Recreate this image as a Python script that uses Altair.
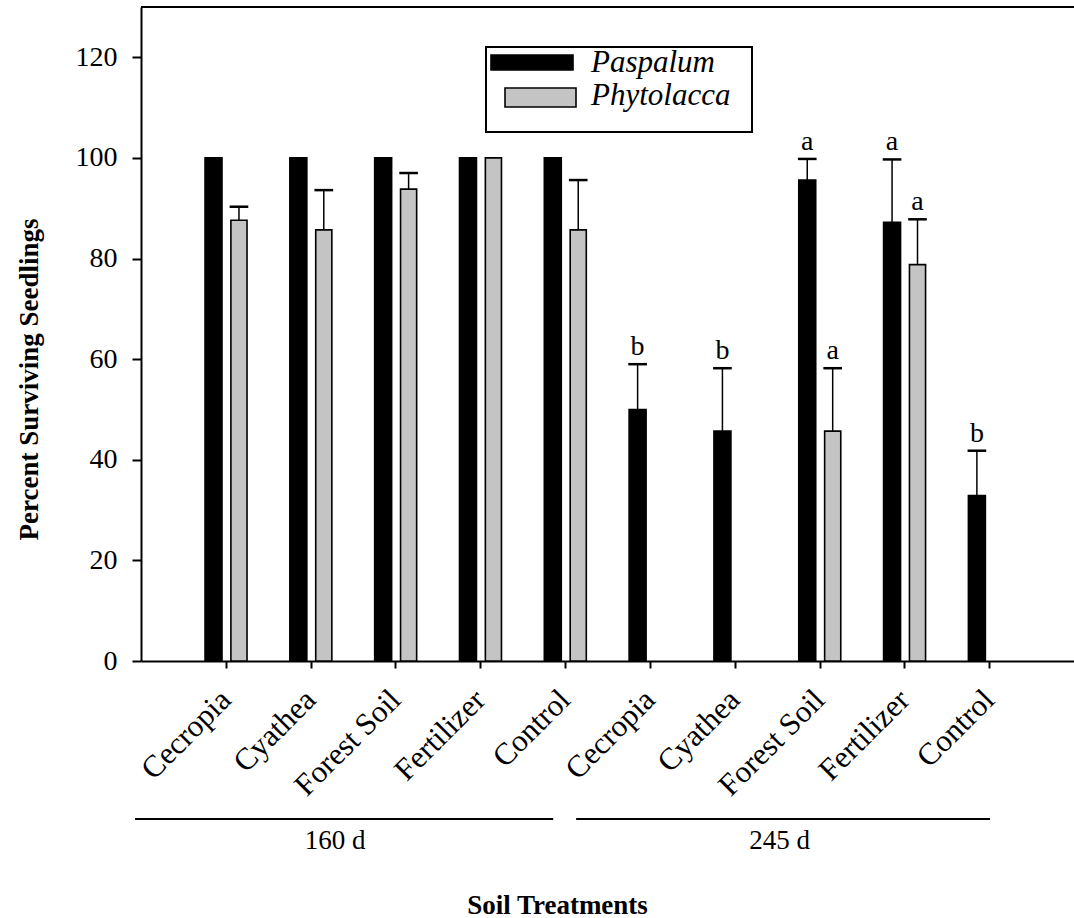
import altair as alt
import pandas as pd

# ---- data ----
treatments = ["Cecropia", "Cyathea", "Forest Soil", "Fertilizer", "Control",
              "Cecropia", "Cyathea", "Forest Soil", "Fertilizer", "Control"]
periods = ["160 d"] * 5 + ["245 d"] * 5
paspalum = [100, 100, 100, 100, 100, 50, 45.7, 95.6, 87.2, 32.9]
paspalum_err = [0, 0, 0, 0, 0, 9, 12.5, 4.2, 12.5, 8.9]
phytolacca = [87.6, 85.7, 93.8, 100, 85.7, 0, 0, 45.7, 78.8, 0]
phytolacca_err = [2.7, 7.9, 3.2, 0, 9.9, 0, 0, 12.5, 9.0, 0]
paspalum_letters = ["", "", "", "", "", "b", "b", "a", "a", "b"]
phytolacca_letters = ["", "", "", "", "", "", "", "a", "a", ""]
y_ticks = [0, 20, 40, 60, 80, 100, 120]
group_names = ["160 d", "245 d"]
species_names = ["Paspalum", "Phytolacca"]
species_colors = ["#000000", "#c4c4c4"]

rows = []
for i, t in enumerate(treatments):
    rows.append(dict(idx=i + 1, treatment=t, period=periods[i], species=species_names[0],
                     value=paspalum[i], err=paspalum_err[i], letter=paspalum_letters[i]))
    rows.append(dict(idx=i + 1, treatment=t, period=periods[i], species=species_names[1],
                     value=phytolacca[i], err=phytolacca_err[i], letter=phytolacca_letters[i]))
df = pd.DataFrame(rows)
df_groups = pd.DataFrame({"period": group_names})
df_legend = pd.DataFrame({"species": species_names, "row": [0, 1]})

SERIF = "Liberation Serif"
W, H = 933, 654

xscale = alt.Scale(domain=[0, 11], nice=False, zero=False)
yscale = alt.Scale(domain=[0, 130], nice=False)
fill_scale = alt.Scale(domain=species_names, range=species_colors)

base = alt.Chart(df).transform_calculate(
    xc="datum.idx + (datum.species == 'Paspalum' ? -0.145 : 0.155)",
    xl="datum.idx + (datum.species == 'Paspalum' ? -0.245 : 0.06)",
    xr="datum.idx + (datum.species == 'Paspalum' ? -0.045 : 0.25)",
    upper="datum.value + datum.err",
)

label_expr = "[" + ",".join("'%s'" % t for t in treatments) + "][datum.value - 1]"

bars = base.transform_filter("datum.value > 0").mark_bar(stroke="black", strokeWidth=1.6).encode(
    x=alt.X("xl:Q", scale=xscale,
            axis=alt.Axis(values=list(range(1, 11)), labelExpr=label_expr, title="Soil Treatments",
                          labelAngle=-45, labelAlign="right", labelBaseline="middle",
                          labelPadding=27, labelOverlap=False, labelBound=False,
                          labelFontSize=31, tickSize=7, grid=False)),
    x2="xr:Q",
    y=alt.Y("value:Q", scale=yscale,
            axis=alt.Axis(values=y_ticks, title="Percent Surviving Seedlings", tickSize=9,
                          grid=False, labelPadding=15)),
    y2=alt.datum(0),
    fill=alt.Fill("species:N", scale=fill_scale, legend=None),
)

err = base.transform_filter("datum.err > 0")
err_line = err.mark_rule(color="black", strokeWidth=1.5).encode(
    x="xc:Q", y="value:Q", y2="upper:Q")
err_cap = err.transform_calculate(
    cl="datum.xc - 0.11", cr="datum.xc + 0.11"
).mark_rule(color="black", strokeWidth=2.5).encode(
    x="cl:Q", x2="cr:Q", y="upper:Q")

letters = base.transform_filter("datum.letter != ''").mark_text(
    font=SERIF, fontSize=28, baseline="alphabetic", dy=-9, color="black"
).encode(x="xc:Q", y="upper:Q", text="letter:N")

top_border = alt.Chart(df_groups).mark_rule(color="black", strokeWidth=2).encode(
    y=alt.datum(130), x=alt.value(0), x2=alt.value(W))

grp = alt.Chart(df_groups).transform_calculate(
    gl="datum.period == '160 d' ? -0.07 : 5.13",
    gr="datum.period == '160 d' ? 4.86 : 10.01",
    gm="datum.period == '160 d' ? 2.29 : 7.53",
)
grp_line = grp.mark_rule(color="black", strokeWidth=2).encode(
    x=alt.X("gl:Q", scale=xscale), x2="gr:Q", y=alt.value(812))
grp_text = grp.mark_text(font=SERIF, fontSize=27, baseline="middle", color="black").encode(
    x=alt.X("gm:Q", scale=xscale), y=alt.value(834), text="period:N")

# ---- legend (boxed, drawn inside the plot area) ----
leg_box = alt.Chart(df_groups).transform_filter("datum.period == '160 d'").mark_rect(
    fill="white", stroke="black", strokeWidth=2
).encode(x=alt.value(345), x2=alt.value(611), y=alt.value(40), y2=alt.value(125))

leg = alt.Chart(df_legend).transform_calculate(
    sx1="datum.row == 0 ? 350 : 364",
    sx2="datum.row == 0 ? 432 : 435",
    sy1="datum.row == 0 ? 48 : 81",
    sy2="datum.row == 0 ? 63 : 100",
    ty="datum.row == 0 ? 56 : 89",
)
leg_sw = leg.mark_rect(stroke="black", strokeWidth=1.6).encode(
    x=alt.X("sx1:Q", scale=None), x2="sx2:Q",
    y=alt.Y("sy1:Q", scale=None), y2="sy2:Q",
    fill=alt.Fill("species:N", scale=fill_scale, legend=None),
)
leg_tx = leg.mark_text(font=SERIF, fontSize=31, fontStyle="italic", align="left",
                       baseline="middle", color="black").encode(
    x=alt.value(450), y=alt.Y("ty:Q", scale=None), text="species:N")

chart = alt.layer(bars, err_line, err_cap, letters, top_border, grp_line, grp_text,
                  leg_box, leg_sw, leg_tx).properties(
    width=W, height=H,
    autosize=alt.AutoSizeParams(type="none"),
    padding={"left": 141, "top": 7, "right": 0, "bottom": 257},
).configure_view(stroke=None).configure_axis(
    domainColor="black", domainWidth=2, tickColor="black", tickWidth=2,
    labelFont=SERIF, labelFontSize=28, labelColor="black",
    titleFont=SERIF, titleFontSize=27, titleFontWeight="bold", titleColor="black",
).configure_axisY(
    titleX=-112, titleY=372, titleAngle=-90, titleBaseline="middle", titleAlign="center"
).configure_axisX(
    titleX=416, titleY=244, titleBaseline="middle", titleAlign="center"
)

chart.save("out.html", embed_options={"renderer": "svg", "actions": False})
